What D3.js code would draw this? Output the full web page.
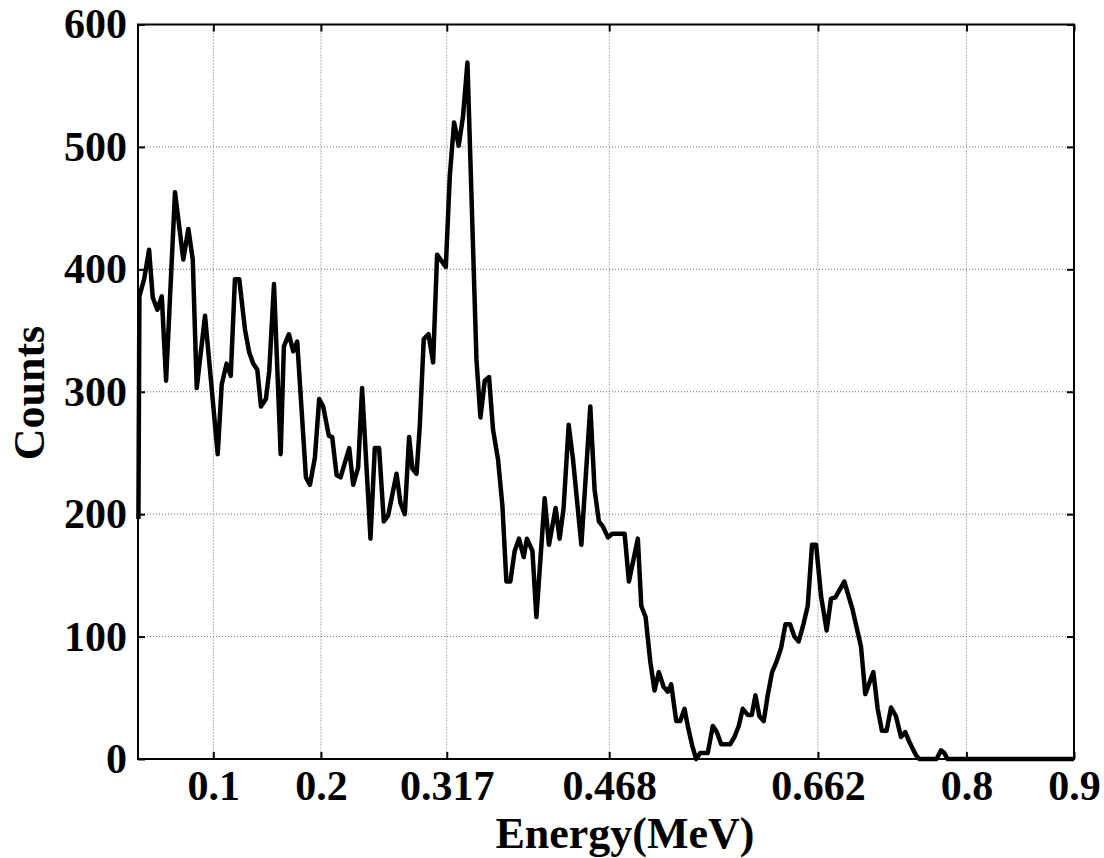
<!DOCTYPE html>
<html>
<head>
<meta charset="utf-8">
<script src="https://cdn.jsdelivr.net/npm/d3@7"></script>
<style>
  body { margin: 0; background: #fff; }
  text { font-family: "Liberation Serif", "Times New Roman", serif; font-weight: bold; }
</style>
</head>
<body>
<div id="chart"></div>
<script>
// spectrum (energy in MeV, counts per channel)
var energy = [
  0.0304, 0.0313, 0.0357, 0.0403, 0.0437, 0.0480, 0.0521, 0.0561, 0.0644, 0.0721,
  0.0768, 0.0809, 0.0846, 0.0923, 0.1041, 0.1078, 0.1124, 0.1162, 0.1201, 0.1241,
  0.1294, 0.1334, 0.1371, 0.1409, 0.1443, 0.1489, 0.1520, 0.1564, 0.1626, 0.1656,
  0.1703, 0.1743, 0.1780, 0.1861, 0.1898, 0.1944, 0.1984, 0.2021, 0.2074, 0.2105,
  0.2146, 0.2183, 0.2263, 0.2300, 0.2346, 0.2383, 0.2461, 0.2501, 0.2541, 0.2585,
  0.2625, 0.2703, 0.2740, 0.2780, 0.2820, 0.2851, 0.2889, 0.2919, 0.2956, 0.3000,
  0.3043, 0.3080, 0.3161, 0.3198, 0.3238, 0.3281, 0.3321, 0.3362, 0.3446, 0.3483,
  0.3523, 0.3563, 0.3600, 0.3646, 0.3687, 0.3724, 0.3761, 0.3801, 0.3841, 0.3885,
  0.3915, 0.3966, 0.4003, 0.4080, 0.4120, 0.4182, 0.4219, 0.4256, 0.4303, 0.4343,
  0.4421, 0.4504, 0.4544, 0.4584, 0.4621, 0.4668, 0.4708, 0.4823, 0.4863, 0.4946,
  0.4978, 0.5018, 0.5061, 0.5101, 0.5141, 0.5185, 0.5225, 0.5256, 0.5303, 0.5340,
  0.5380, 0.5410, 0.5451, 0.5488, 0.5526, 0.5596, 0.5643, 0.5680, 0.5721, 0.5804,
  0.5844, 0.5884, 0.5921, 0.5968, 0.6005, 0.6039, 0.6076, 0.6116, 0.6153, 0.6194,
  0.6237, 0.6278, 0.6318, 0.6361, 0.6401, 0.6441, 0.6485, 0.6525, 0.6565, 0.6603,
  0.6649, 0.6701, 0.6742, 0.6782, 0.6865, 0.6942, 0.7020, 0.7060, 0.7135, 0.7175,
  0.7215, 0.7258, 0.7299, 0.7345, 0.7392, 0.7432, 0.7469, 0.7531, 0.7562, 0.7722,
  0.7763, 0.7794, 0.7824, 0.9000
];
var counts = [
  196, 378, 392, 416, 377, 367, 378, 309, 463, 408,
  433, 408, 303, 362, 249, 306, 323, 313, 392, 392,
  351, 332, 323, 318, 288, 294, 317, 388, 249, 337,
  347, 333, 341, 230, 224, 246, 294, 288, 264, 263,
  232, 230, 254, 224, 238, 303, 180, 254, 254, 194,
  199, 233, 209, 200, 263, 237, 233, 272, 343, 347,
  324, 412, 402, 476, 520, 501, 525, 569, 326, 279,
  309, 312, 269, 245, 207, 145, 145, 170, 180, 165,
  180, 170, 116, 213, 175, 205, 180, 205, 273, 245,
  175, 288, 220, 194, 190, 181, 184, 184, 145, 180,
  125, 116, 80, 56, 71, 59, 55, 61, 31, 31,
  41, 27, 11, 0, 5, 5, 27, 22, 12, 12,
  18, 27, 41, 36, 36, 52, 35, 31, 52, 71,
  80, 91, 110, 110, 100, 96, 110, 125, 175, 175,
  133, 105, 131, 132, 145, 122, 92, 53, 71, 41,
  23, 23, 42, 35, 18, 22, 14, 3, 0, 0,
  7, 5, 0, 0
];

var xTicks = [0.1, 0.2, 0.317, 0.468, 0.662, 0.8, 0.9];
var xTickLabels = ["0.1", "0.2", "0.317", "0.468", "0.662", "0.8", "0.9"];
var yTicks = [0, 100, 200, 300, 400, 500, 600];

var cfg = {
  w: 1104,
  h: 858,
  left: 138,
  right: 1074,
  top: 24.5,
  bot: 759,
  font: 42,
  titleFont: 44
};

var svg = d3.select("#chart")
  .append("svg")
  .attr("width", cfg.w)
  .attr("height", cfg.h);

var x = d3.scaleLinear()
  .domain([0.03, 0.9])
  .range([cfg.left, cfg.right]);

var y = d3.scaleLinear()
  .domain([0, 600])
  .range([cfg.bot, cfg.top]);

// dotted grid, matlab style
var grid = svg.append("g");

grid.selectAll(".vgrid")
  .data(xTicks)
  .enter().append("line")
  .attr("x1", function(d) { return x(d); })
  .attr("x2", function(d) { return x(d); })
  .attr("y1", cfg.top)
  .attr("y2", cfg.bot)
  .style("stroke", "#6e6e6e")
  .style("stroke-width", 1)
  .style("stroke-dasharray", "1,2");

grid.selectAll(".hgrid")
  .data(yTicks)
  .enter().append("line")
  .attr("x1", cfg.left)
  .attr("x2", cfg.right)
  .attr("y1", function(d) { return y(d); })
  .attr("y2", function(d) { return y(d); })
  .style("stroke", "#6e6e6e")
  .style("stroke-width", 1)
  .style("stroke-dasharray", "1,2");

// axes with inward ticks on all four sides
var xAxis = d3.axisBottom(x)
  .tickValues(xTicks)
  .tickFormat(function(d, i) { return xTickLabels[i]; })
  .tickSizeInner(-7)
  .tickSizeOuter(0)
  .tickPadding(11);

var yAxis = d3.axisLeft(y)
  .tickValues(yTicks)
  .tickSizeInner(-7)
  .tickSizeOuter(0)
  .tickPadding(11);

svg.append("g")
  .attr("transform", "translate(0," + cfg.bot + ")")
  .call(xAxis);

svg.append("g")
  .attr("transform", "translate(" + cfg.left + ",0)")
  .call(yAxis);

svg.append("g")
  .attr("transform", "translate(0," + cfg.top + ")")
  .call(d3.axisTop(x).tickValues(xTicks).tickFormat("").tickSizeInner(-7).tickSizeOuter(0));

svg.append("g")
  .attr("transform", "translate(" + cfg.right + ",0)")
  .call(d3.axisRight(y).tickValues(yTicks).tickFormat("").tickSizeInner(-7).tickSizeOuter(0));

svg.selectAll(".domain").remove();
svg.selectAll(".tick line")
  .style("stroke", "#000")
  .style("stroke-width", 2);

svg.selectAll(".tick text")
  .style("font-size", cfg.font + "px")
  .style("fill", "#000");

// box
svg.append("rect")
  .attr("x", cfg.left)
  .attr("y", cfg.top)
  .attr("width", cfg.right - cfg.left)
  .attr("height", cfg.bot - cfg.top)
  .style("fill", "none")
  .style("stroke", "#000")
  .style("stroke-width", 2);

// the spectrum
var line = d3.line()
  .x(function(d, i) { return x(energy[i]); })
  .y(function(d) { return y(d); });

svg.append("path")
  .datum(counts)
  .attr("d", line)
  .style("fill", "none")
  .style("stroke", "#000")
  .style("stroke-width", 4.5)
  .style("stroke-linejoin", "round");

// axis titles
svg.append("text")
  .attr("x", 625)
  .attr("y", 848)
  .attr("text-anchor", "middle")
  .style("font-size", cfg.titleFont + "px")
  .text("Energy(MeV)");

svg.append("text")
  .attr("transform", "translate(44,393) rotate(-90)")
  .attr("text-anchor", "middle")
  .style("font-size", cfg.titleFont + "px")
  .text("Counts");
</script>
</body>
</html>
